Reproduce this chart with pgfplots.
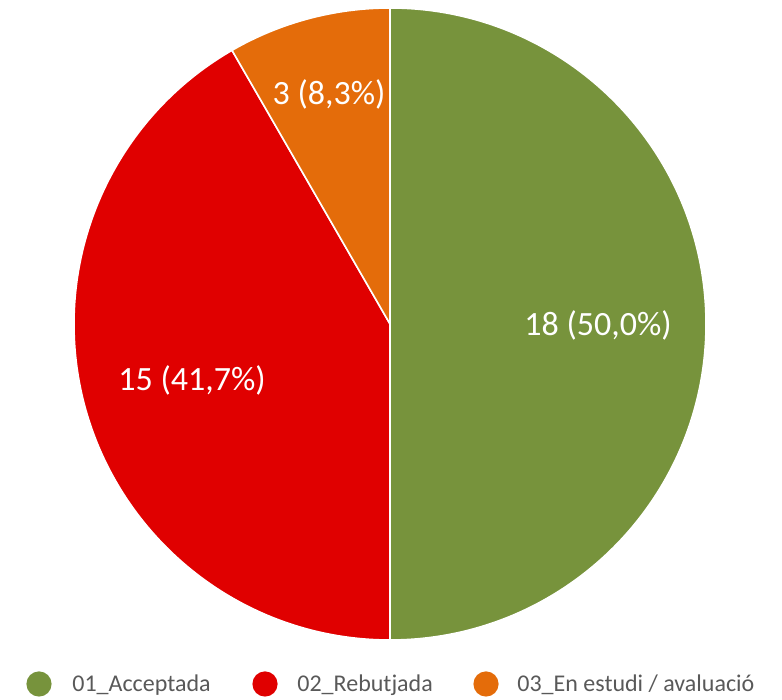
\documentclass[border=0pt]{standalone}
\usepackage{pgfplots}
\pgfplotsset{compat=1.18}
\usepackage{fontspec}
\setmainfont{Carlito}
\definecolor{cA}{HTML}{77933C}
\definecolor{cB}{HTML}{E00000}
\definecolor{cC}{HTML}{E46C0A}
\definecolor{txt}{HTML}{595959}
\begin{document}
\begin{tikzpicture}
% values
\def\va{18}\def\vb{15}\def\vc{3}
\pgfmathsetmacro{\tot}{\va+\vb+\vc}
\pgfmathsetmacro{\aA}{90}
\pgfmathsetmacro{\aB}{90-360*\va/\tot}
\pgfmathsetmacro{\aC}{\aB-360*\vb/\tot}
\pgfmathsetmacro{\aD}{\aC-360*\vc/\tot}
\begin{axis}[
  scale only axis, width=391pt, height=350pt,
  xmin=0, xmax=782, ymin=0, ymax=700,
  hide axis, clip=false,
]
\addplot[draw=none] coordinates {(0,0) (782,700)};
\fill[cA, draw=white, line width=0.8pt] (axis cs:390,376) -- ++(\aA:158pt) arc[start angle=\aA, end angle=\aB, radius=158pt] -- cycle;
\fill[cB, draw=white, line width=0.8pt] (axis cs:390,376) -- ++(\aB:158pt) arc[start angle=\aB, end angle=\aC, radius=158pt] -- cycle;
\fill[cC, draw=white, line width=0.8pt] (axis cs:390,376) -- ++(\aC:158pt) arc[start angle=\aC, end angle=\aD, radius=158pt] -- cycle;
\node[text=white, font=\fontsize{17}{19}\selectfont] at (axis cs:598,375) {18 (50,0\%)};
\node[text=white, font=\fontsize{17}{19}\selectfont] at (axis cs:192,320) {15 (41,7\%)};
\node[text=white, font=\fontsize{17}{19}\selectfont] at (axis cs:329,606) {3 (8,3\%)};
% legend
\fill[cA] (axis cs:39,16) circle[radius=6.3pt];
\fill[cB] (axis cs:265,16) circle[radius=6.3pt];
\fill[cC] (axis cs:486,16) circle[radius=6.3pt];
\node[anchor=west, text=txt, font=\fontsize{12}{14}\selectfont, inner sep=0pt] at (axis cs:72,15) {01\_Acceptada};
\node[anchor=west, text=txt, font=\fontsize{12}{14}\selectfont, inner sep=0pt] at (axis cs:297,15) {02\_Rebutjada};
\node[anchor=west, text=txt, font=\fontsize{12}{14}\selectfont, inner sep=0pt] at (axis cs:517,15) {03\_En estudi / avaluació};
\end{axis}
\end{tikzpicture}
\end{document}
